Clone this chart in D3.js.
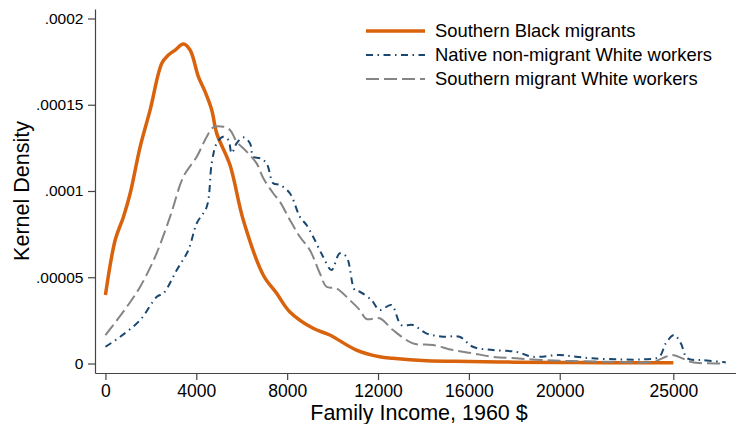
<!DOCTYPE html>
<html>
<head>
<meta charset="utf-8">
<script src="https://cdn.jsdelivr.net/npm/d3@7"></script>
<style>
  body { margin: 0; background: #fff; }
  svg { display: block; font-family: "Liberation Sans", Arial, sans-serif; }
</style>
</head>
<body>
<div id="chart"></div>
<script>
// kernel density estimates: [family income, density]
const blackMigrants = [
  [0, 3.97e-5], [430, 7.16e-5], [795, 8.51e-5], [1090, 9.87e-5], [1530, 1.257e-4],
  [1968, 1.47e-4], [2482, 1.74e-4], [2772, 1.788e-4], [3067, 1.817e-4], [3431, 1.852e-4],
  [3726, 1.817e-4], [4090, 1.663e-4], [4385, 1.576e-4], [4679, 1.47e-4], [4899, 1.334e-4],
  [5483, 1.151e-4], [6068, 8.32e-5], [6946, 5.13e-5], [7535, 4.07e-5], [8120, 2.99e-5],
  [9143, 2.04e-5], [9877, 1.65e-5], [11050, 7.8e-6], [12074, 3.9e-6], [12640, 3.0e-6],
  [14140, 1.6e-6], [16000, 1.2e-6], [18000, 8e-7], [20000, 6e-7], [22000, 5e-7], [25000, 5e-7]
]
const nativeWhite = [
  [0, 9.7e-6], [650, 1.55e-5], [1529, 2.52e-5], [2263, 3.87e-5], [2553, 4.07e-5],
  [3141, 5.42e-5], [3651, 6.58e-5], [4020, 8.13e-5], [4460, 9.09e-5], [4679, 1.16e-4],
  [4899, 1.277e-4], [5189, 1.315e-4], [5409, 1.296e-4], [5558, 1.219e-4], [5778, 1.277e-4],
  [6068, 1.311e-4], [6362, 1.277e-4], [6507, 1.199e-4], [6801, 1.19e-4], [7096, 1.16e-4],
  [7386, 1.045e-4], [7680, 1.035e-4], [8120, 9.87e-5], [8559, 8.51e-5], [8853, 8.03e-5],
  [9143, 7.35e-5], [9583, 6.19e-5], [9952, 5.42e-5], [10316, 6.39e-5], [10611, 6.19e-5],
  [10975, 4.26e-5], [11195, 4.16e-5], [11709, 3.68e-5], [12074, 3.1e-5], [12588, 3.39e-5],
  [13027, 2.23e-5], [13537, 2.23e-5], [14126, 1.75e-5], [14855, 1.55e-5], [15589, 1.55e-5],
  [16173, 9.7e-6], [17052, 7.8e-6], [18080, 6.8e-6], [18809, 3.9e-6], [19982, 4.9e-6],
  [20716, 3.9e-6], [21446, 3.0e-6], [22618, 2.4e-6], [23642, 2.4e-6], [24376, 3.9e-6],
  [24670, 1.17e-5], [25035, 1.65e-5], [25330, 1.17e-5], [25620, 3.0e-6], [26279, 2.0e-6],
  [27307, 7e-7]
]
const southernWhite = [
  [0, 1.65e-5], [945, 3.29e-5], [1529, 4.45e-5], [2188, 6.19e-5], [2847, 8.51e-5],
  [3431, 1.083e-4], [4020, 1.199e-4], [4460, 1.315e-4], [4750, 1.369e-4], [5189, 1.373e-4],
  [5483, 1.354e-4], [5778, 1.286e-4], [6217, 1.228e-4], [6656, 1.16e-4], [6946, 1.075e-4],
  [7386, 9.87e-5], [7680, 9.38e-5], [8120, 8.32e-5], [8559, 7.35e-5], [8998, 6.58e-5],
  [9438, 5.23e-5], [9732, 4.45e-5], [10171, 4.36e-5], [10756, 3.68e-5], [11195, 3.1e-5],
  [11490, 2.58e-5], [12074, 2.62e-5], [12658, 1.94e-5], [13537, 1.17e-5], [14416, 1.07e-5],
  [15294, 7.8e-6], [16173, 5.9e-6], [17052, 3.9e-6], [18080, 3.0e-6], [19249, 2.0e-6],
  [20567, 1.4e-6], [22324, 1.0e-6], [24082, 1.0e-6], [24670, 3.9e-6], [24960, 4.9e-6],
  [25400, 3.0e-6], [25839, 7e-7], [27307, 1e-7]
]

const seriesNames = ['Southern Black migrants', 'Native non-migrant White workers', 'Southern migrant White workers']
const xTicks = [0, 4000, 8000, 12000, 16000, 20000, 25000]
const yTicks = [0, 0.00005, 0.0001, 0.00015, 0.0002]
const yTickLabels = ['0', '.00005', '.0001', '.00015', '.0002']

const width = 736, height = 424

const series = [
  {name: seriesNames[0], values: blackMigrants, color: '#d9620c', width: 3.5, dash: null},
  {name: seriesNames[1], values: nativeWhite, color: '#1a476f', width: 2, dash: '7,4.5,1.5,4.5'},
  {name: seriesNames[2], values: southernWhite, color: '#858585', width: 2, dash: '13,5'}
]

const svg = d3.select('#chart').append('svg')
  .attr('width', width)
  .attr('height', height)

const x = d3.scaleLinear().domain([-460, 27760]).range([95, 736])
const y = d3.scaleLinear().domain([-0.0000055, 0.0002055]).range([373, 9])

// axes
const xAxis = svg.append('g')
  .attr('transform', `translate(0,${y(-0.0000055)})`)
  .call(d3.axisBottom(x).tickValues(xTicks).tickFormat(d3.format('d')).tickSize(7).tickSizeOuter(0))
xAxis.selectAll('text').attr('font-size', 17.5).attr('dy', '0.78em').attr('fill', '#000')
  .attr('font-family', '"Liberation Sans", Arial, sans-serif')

const yAxis = svg.append('g')
  .attr('transform', `translate(${x(-460)},0)`)
  .call(d3.axisLeft(y).tickValues(yTicks).tickFormat((d, i) => yTickLabels[i]).tickSize(7).tickSizeOuter(0))
yAxis.selectAll('text').attr('font-size', 15.5).attr('fill', '#000').attr('dx', '-0.1em')
  .attr('font-family', '"Liberation Sans", Arial, sans-serif')

svg.selectAll('.domain, .tick line').attr('stroke', '#444').attr('stroke-width', 1.2)

svg.append('text')
  .attr('x', 419).attr('y', 420)
  .attr('text-anchor', 'middle')
  .attr('font-size', 21.5)
  .text('Family Income, 1960 $')

svg.append('text')
  .attr('transform', 'translate(29,191) rotate(-90)')
  .attr('text-anchor', 'middle')
  .attr('font-size', 21.5)
  .text('Kernel Density')

// density curves
const line = d3.line()
  .x(d => x(d[0]))
  .y(d => y(d[1]))
  .curve(d3.curveCatmullRom.alpha(0.5))

svg.selectAll('.curve')
  .data(series)
  .join('path')
    .attr('class', 'curve')
    .attr('d', d => line(d.values))
    .attr('fill', 'none')
    .attr('stroke', d => d.color)
    .attr('stroke-width', d => d.width)
    .attr('stroke-dasharray', d => d.dash)
    .attr('stroke-linejoin', 'round')

// legend
const legend = svg.append('g').attr('transform', 'translate(366,31)')
const rows = legend.selectAll('g')
  .data(series)
  .join('g')
    .attr('transform', (d, i) => `translate(0,${i * 24})`)
rows.append('line')
  .attr('x1', 0).attr('x2', 59)
  .attr('stroke', d => d.color)
  .attr('stroke-width', d => d.width)
  .attr('stroke-dasharray', d => d.dash)
rows.append('text')
  .attr('x', 69).attr('dy', '0.35em')
  .attr('font-size', 18.4)
  .text(d => d.name)
</script>
</body>
</html>
